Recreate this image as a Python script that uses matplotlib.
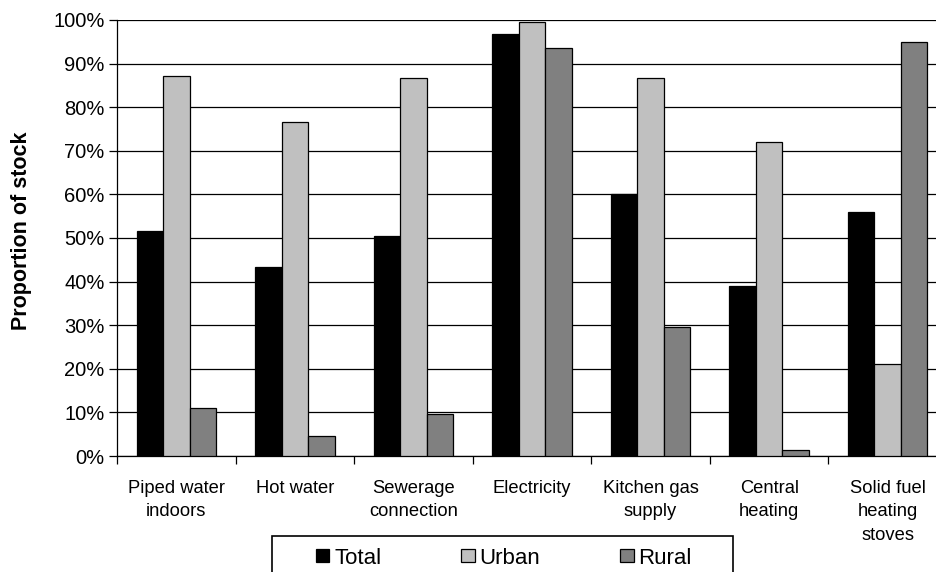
import numpy as np
import matplotlib
matplotlib.use("Agg")
from matplotlib import pyplot as plt
from matplotlib.patches import Rectangle

plt.rcParams['font.family'] = ['Liberation Sans', 'DejaVu Sans']

categories = ['Piped water\nindoors', 'Hot water', 'Sewerage\nconnection', 'Electricity',
              'Kitchen gas\nsupply', 'Central\nheating', 'Solid fuel\nheating\nstoves']
total = [51.5, 43.3, 50.5, 96.9, 60.0, 39.1, 56.0]
urban = [87.2, 76.6, 86.7, 99.5, 86.7, 72.0, 21.2]
rural = [11.0, 4.7, 9.6, 93.6, 29.7, 1.3, 95.0]
series_names = ['Total', 'Urban', 'Rural']
colors = ['#000000', '#c0c0c0', '#808080']

W, H = 937, 572
fig = plt.figure(figsize=(W / 100, H / 100), dpi=100)
# plot area runs past the right edge, like the cropped original
ax = fig.add_axes([117 / W, 1 - 456 / H, (947 - 117) / W, (456 - 20) / H])

x = np.arange(len(categories))
bw = 0.223
for k, (vals, c, name) in enumerate(zip([total, urban, rural], colors, series_names)):
    ax.bar(x + (k - 1) * bw, vals, width=bw, color=c, edgecolor='black',
           linewidth=0.9, label=name, zorder=3)

ax.set_xlim(-0.5, len(categories) - 0.5)
ax.set_ylim(0, 100)
ax.set_yticks(np.arange(0, 101, 10))
ax.set_yticklabels([f'{v}%' for v in range(0, 101, 10)], fontsize=14.5)
ax.yaxis.grid(True, color='black', linewidth=0.9, zorder=0)
ax.set_axisbelow(True)

# category boundaries get the ticks, labels sit in between
ax.set_xticks(np.arange(-0.5, len(categories), 1.0))
ax.set_xticklabels([])
ax.set_xticks(x, minor=True)
ax.set_xticklabels(categories, minor=True, fontsize=13.2, linespacing=1.5)
ax.tick_params(axis='x', which='minor', length=0, pad=17)
ax.tick_params(axis='x', which='major', length=6, width=0.9, direction='out')
ax.tick_params(axis='y', length=6, width=0.9, direction='out', pad=3)

for s in ['top', 'right']:
    ax.spines[s].set_visible(False)
for s in ['left', 'bottom']:
    ax.spines[s].set_linewidth(0.9)

fig.text(22 / W, 1 - 231 / H, 'Proportion of stock', rotation=90, fontsize=15.5,
         fontweight='bold', ha='center', va='center')

# legend box is cut off by the bottom edge in the original
fig.add_artist(Rectangle((272 / W, 1 - 592 / H), 461 / W, 56 / H,
                         transform=fig.transFigure, facecolor='none',
                         edgecolor='black', linewidth=1.2))
fig.legend(loc='center left', ncol=3, bbox_to_anchor=(316 / W, 1 - 558 / H),
           fontsize=16, frameon=False, handlelength=0.6, handleheight=0.55,
           handletextpad=0.22, columnspacing=3.6, borderpad=0, borderaxespad=0)

fig.savefig('out.png', dpi=100)
